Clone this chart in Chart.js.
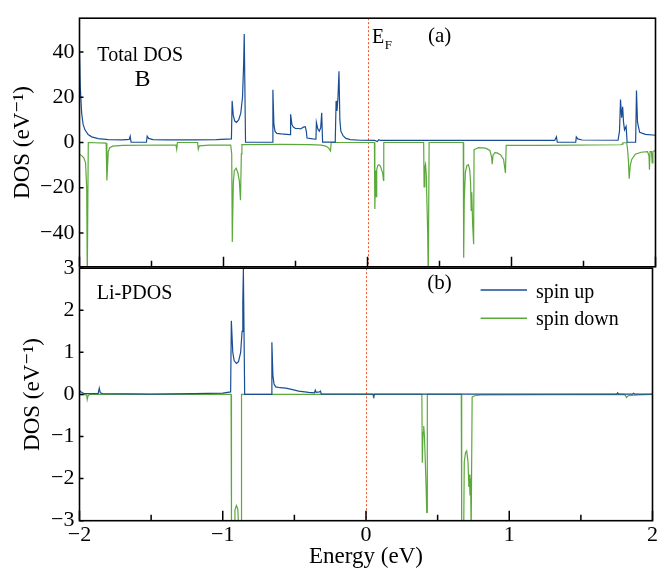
<!DOCTYPE html>
<html>
<head>
<meta charset="utf-8">
<script src="https://cdn.jsdelivr.net/npm/chart.js@4"></script>
<style>
html, body { margin: 0; padding: 0; background: #fff; }
#wrap { position: relative; width: 659px; height: 568px; overflow: hidden; }
canvas { position: absolute; left: 0; }
#topChart { top: 0; }
#botChart { top: 250px; }
</style>
</head>
<body>
<div id="wrap">
<canvas id="topChart" width="659" height="285"></canvas>
<canvas id="botChart" width="659" height="318"></canvas>
</div>
<script>
// (a) total DOS, spin up
const energyTotalUp = [-2.0,-1.995,-1.985,-1.975,-1.962,-1.94,-1.915,-1.87,-1.8,-1.7,-1.655,-1.648,-1.642,-1.535,-1.53,-1.52,-1.49,-1.4,-1.2,-1.05,
  -0.945,-0.94,-0.932,-0.922,-0.91,-0.895,-0.88,-0.868,-0.86,-0.856,-0.847,-0.66,-0.657,-0.65,-0.642,-0.63,-0.6,-0.56,-0.538,-0.534,
  -0.525,-0.515,-0.5,-0.48,-0.465,-0.445,-0.432,-0.425,-0.42,-0.38,-0.358,-0.355,-0.345,-0.335,-0.325,-0.318,-0.312,-0.224,-0.218,-0.212,
  -0.205,-0.198,-0.192,-0.185,-0.17,-0.15,-0.12,-0.05,0.05,0.068,0.078,0.09,0.5,1.0,1.3,1.312,1.318,1.446,1.45,1.46,
  1.49,1.74,1.75,1.757,1.765,1.772,1.778,1.785,1.796,1.803,1.862,1.868,1.875,1.89,1.93,2.0];
const dosTotalUp = [40,25,13,8,5.6,3.5,2.5,1.7,1.3,1.2,1.4,2.8,0.1,0.1,2.8,1.8,1.3,1.2,1.2,1.3,
  1.6,18.4,12,9.5,8.9,10,13,20,35,48,0.1,0.1,23.3,8,4.9,4,3.8,3.6,3.5,12.5,
  8,6.8,6.2,6.2,6,6.8,7,5,2,1.6,1.5,8.9,6,5,6.5,13.2,0.2,0.2,18.4,14,
  20,31.5,10,5,3,1.8,1.3,1.0,0.9,0.4,1.2,0.9,0.9,0.9,0.9,2.5,0.1,0.1,2.5,1.6,
  1.1,1.0,5,19,11,15.8,9,5.6,7.1,0.1,0.1,23,9,4.5,3.6,3.2];

// (a) total DOS, spin down
const energyTotalDown = [-2.0,-1.985,-1.97,-1.958,-1.95,-1.946,-1.941,-1.939,-1.815,-1.81,-1.8,-1.79,-1.77,-1.7,-1.4,-1.33,-1.325,-1.32,-1.18,-1.175,
  -1.168,-1.1,-0.95,-0.943,-0.939,-0.932,-0.925,-0.912,-0.9,-0.89,-0.882,-0.876,-0.872,-0.6,-0.4,-0.32,-0.29,-0.27,-0.257,-0.252,
  0.048,0.05,0.052,0.056,0.06,0.064,0.072,0.08,0.09,0.105,0.111,0.113,0.39,0.393,0.398,0.403,0.408,0.418,0.422,0.426,
  0.428,0.665,0.668,0.672,0.68,0.69,0.7,0.71,0.716,0.72,0.724,0.73,0.737,0.74,0.745,0.77,0.82,0.85,0.862,0.866,
  0.872,0.885,0.9,0.925,0.945,0.958,0.963,1.2,1.76,1.768,1.774,1.8,1.806,1.812,1.817,1.825,1.835,1.86,1.9,1.945,
  1.955,1.958,1.962,1.972,1.977,1.982,2.0];
const dosTotalDown = [-5.2,-5.8,-6.8,-9,-20,-60,-60,0,-0.3,-16.8,-4,-2.3,-1.6,-1.3,-1.1,-1.2,-3,0,0,-3,
  -1.5,-1.2,-1.2,-5,-44,-18,-12.5,-11.4,-13.5,-17,-25.5,-5,-0.9,-0.8,-0.9,-1.2,-1.6,-2.4,-3.7,0,
  0,-5,-29.4,-12.4,-24,-12,-10,-9.8,-10.5,-13.5,-16.8,0,0,-19.7,-11,-9.6,-14,-40,-60,-60,
  0,0,-51,-25,-13,-10.2,-9.8,-12,-18,-30,-22,-36,-45,-3.2,-3,-2.3,-2.5,-3.5,-6.5,-9.6,
  -5.5,-4.5,-4.6,-5.5,-7.5,-13.5,-1.3,-1.3,-1.0,-0.7,-0.1,-0.1,-3,-8,-16,-10,-7.5,-5.2,-4.3,-4.0,
  -6,-12,-4.0,-4.0,-9,-4.0,-3.4];

// (b) Li PDOS, spin up
const energyLiUp = [-2.0,-1.995,-1.985,-1.97,-1.87,-1.862,-1.855,-1.84,-1.5,-1.2,-1.0,-0.945,-0.94,-0.93,-0.92,-0.905,-0.89,-0.875,-0.865,-0.86,
  -0.856,-0.847,-0.66,-0.657,-0.65,-0.642,-0.63,-0.6,-0.56,-0.52,-0.47,-0.4,-0.36,-0.354,-0.348,-0.325,-0.318,-0.312,0.05,0.055,
  0.06,1.75,1.757,1.762,1.862,1.868,1.875,2.0];
const dosLiUp = [0.02,0.08,0.05,0.02,0.02,0.15,0.04,0.02,0.01,0.02,0.03,0.06,1.75,1.0,0.8,0.74,0.78,1.0,1.5,2.2,
  2.98,0,0,1.24,0.45,0.25,0.18,0.16,0.15,0.12,0.08,0.05,0.04,0.1,0.05,0.06,0.08,0.01,0.01,-0.03,
  0.01,0.01,0.04,0.01,0.01,0.03,0.01,0.01];

// (b) Li PDOS, spin down
const energyLiDown = [-2.0,-1.95,-1.946,-1.94,-1.93,-0.942,-0.939,-0.921,-0.915,-0.905,-0.895,-0.887,-0.871,-0.869,0.048,0.052,0.058,0.39,0.393,0.398,
  0.403,0.408,0.418,0.424,0.427,0.428,0.665,0.668,0.682,0.686,0.695,0.703,0.712,0.718,0.722,0.726,0.73,0.734,0.739,0.741,
  0.76,0.8,1.8,1.81,1.818,1.83,1.9,2.0];
const dosLiDown = [0,-0.01,-0.12,-0.03,0,0,-3.3,-3.3,-2.75,-2.64,-2.72,-3.3,-3.3,0,0,-0.06,0,0,-1.62,-0.9,
  -0.75,-1.0,-2.0,-2.8,-2.8,0,0,-3.3,-3.3,-1.6,-1.38,-1.34,-1.6,-2.2,-1.9,-2.4,-2.0,-3.3,-3.3,-0.06,
  -0.03,-0.01,0,-0.02,-0.07,-0.03,-0.01,0];

const seriesNames = ['spin up', 'spin down'];
const xTicks = [-2, -1, 0, 1, 2];
const xMinorTicks = [-1.5, -0.5, 0.5, 1.5];
const yTicksTotal = [-40, -20, 0, 20, 40];
const yTicksLi = [-3, -2, -1, 0, 1, 2, 3];

const serif = "'Liberation Serif', 'DejaVu Serif', serif";
const blue = '#1a4e94';
const green = '#5ba93a';

function pts(xs, ys) {
  return xs.map((x, i) => ({x: x, y: ys[i]}));
}
function minus(v) {
  return v < 0 ? '\u2212' + Math.abs(v) : '' + v;
}

function lineSet(label, xs, ys, color) {
  return {
    label: label,
    data: pts(xs, ys),
    borderColor: color,
    backgroundColor: color,
    borderWidth: 1.2,
    pointRadius: 0,
    tension: 0,
    fill: false
  };
}

// frame, inward ticks and Fermi level line
const framePlugin = {
  id: 'frame',
  beforeDatasetsDraw(chart) {
    const {ctx, chartArea: a, scales: {x}} = chart;
    const px = Math.round(x.getPixelForValue(0)) + 0.5;
    ctx.save();
    ctx.strokeStyle = '#f2542a';
    ctx.lineWidth = 1;
    ctx.setLineDash([2, 2]);
    ctx.beginPath();
    ctx.moveTo(px, a.top);
    ctx.lineTo(px, a.bottom);
    ctx.stroke();
    ctx.restore();
  },
  afterDatasetsDraw(chart) {
    const {ctx, chartArea: a, scales: {x, y}} = chart;
    ctx.save();
    ctx.strokeStyle = '#000';
    ctx.lineWidth = 1.5;
    ctx.beginPath();
    xTicks.forEach(v => {
      const px = x.getPixelForValue(v);
      ctx.moveTo(px, a.bottom);
      ctx.lineTo(px, a.bottom - 10);
    });
    xMinorTicks.forEach(v => {
      const px = x.getPixelForValue(v);
      ctx.moveTo(px, a.bottom);
      ctx.lineTo(px, a.bottom - 6);
    });
    y.ticks.forEach(t => {
      const py = y.getPixelForValue(t.value);
      ctx.moveTo(a.left, py);
      ctx.lineTo(a.left + 4, py);
    });
    ctx.stroke();
    ctx.lineWidth = 1.6;
    ctx.strokeRect(a.left, a.top, a.right - a.left, a.bottom - a.top);
    ctx.restore();
  }
};

function text(ctx, s, px, py, size, align) {
  ctx.font = size + 'px ' + serif;
  ctx.textAlign = align || 'left';
  ctx.textBaseline = 'alphabetic';
  ctx.fillText(s, px, py);
}

const labelsTop = {
  id: 'labelsTop',
  afterDraw(chart) {
    const {ctx, scales: {x, y}} = chart;
    ctx.save();
    ctx.fillStyle = '#000';
    text(ctx, 'Total DOS', x.getPixelForValue(-1.876), y.getPixelForValue(36.1), 20);
    text(ctx, 'B', x.getPixelForValue(-1.5625), y.getPixelForValue(24.8), 24, 'center');
    const ex = x.getPixelForValue(0.032);
    text(ctx, 'E', ex, y.getPixelForValue(44.1), 20);
    const w = ctx.measureText('E').width;
    text(ctx, 'F', ex + w + 0.5, y.getPixelForValue(41.5), 13);
    text(ctx, '(a)', x.getPixelForValue(0.42), y.getPixelForValue(44.3), 21);
    ctx.restore();
  }
};

const labelsBot = {
  id: 'labelsBot',
  afterDraw(chart) {
    const {ctx, scales: {x, y}} = chart;
    ctx.save();
    ctx.fillStyle = '#000';
    text(ctx, 'Li-PDOS', x.getPixelForValue(-1.88), y.getPixelForValue(2.28), 20);
    text(ctx, '(b)', x.getPixelForValue(0.427), y.getPixelForValue(2.5), 21);
    // legend
    const rows = [[2.48, 2.30], [1.81, 1.65]];
    chart.data.datasets.forEach((ds, i) => {
      const ly = y.getPixelForValue(rows[i][0]);
      ctx.strokeStyle = ds.borderColor;
      ctx.lineWidth = 1.5;
      ctx.beginPath();
      ctx.moveTo(x.getPixelForValue(0.80), ly);
      ctx.lineTo(x.getPixelForValue(1.124), ly);
      ctx.stroke();
      ctx.fillStyle = '#000';
      text(ctx, ds.label, x.getPixelForValue(1.186), y.getPixelForValue(rows[i][1]), 20);
    });
    ctx.restore();
  }
};

const tickFont = {family: serif, size: 22};

new Chart(document.getElementById('topChart'), {
  type: 'line',
  data: {
    datasets: [
      lineSet(seriesNames[0], energyTotalUp, dosTotalUp, blue),
      lineSet(seriesNames[1], energyTotalDown, dosTotalDown, green)
    ]
  },
  options: {
    responsive: false,
    animation: false,
    events: [],
    layout: {padding: {top: 13, right: 3.5, bottom: 18, left: 0}},
    plugins: {legend: {display: false}, tooltip: {enabled: false}},
    scales: {
      x: {type: 'linear', min: -2, max: 2, display: false},
      y: {
        type: 'linear', min: -55, max: 55,
        afterBuildTicks: s => { s.ticks = yTicksTotal.map(v => ({value: v})); },
        afterFit: s => { s.width = 79.5; },
        grid: {display: false, drawTicks: false},
        border: {display: false},
        ticks: {font: tickFont, color: '#000', padding: 5, callback: minus},
        title: {display: true, text: 'DOS (eV\u207B\u00B9)', color: '#000',
          font: {family: serif, size: 23}, padding: {top: 9, bottom: 0}}
      }
    }
  },
  plugins: [framePlugin, labelsTop]
});

new Chart(document.getElementById('botChart'), {
  type: 'line',
  data: {
    datasets: [
      lineSet(seriesNames[0], energyLiUp, dosLiUp, blue),
      lineSet(seriesNames[1], energyLiDown, dosLiDown, green)
    ]
  },
  options: {
    responsive: false,
    animation: false,
    events: [],
    layout: {padding: {top: 17, right: 3.5, bottom: 0, left: 0}},
    plugins: {legend: {display: false}, tooltip: {enabled: false}},
    scales: {
      x: {
        type: 'linear', min: -2, max: 2,
        afterBuildTicks: s => { s.ticks = xTicks.map(v => ({value: v})); },
        afterFit: s => { s.height = 47.3; },
        grid: {display: false, drawTicks: false},
        border: {display: false},
        ticks: {font: tickFont, color: '#000', padding: 1, maxRotation: 0, callback: minus},
        title: {display: true, text: 'Energy (eV)', color: '#000',
          font: {family: serif, size: 23, lineHeight: 1}, padding: {top: 0, bottom: 0}}
      },
      y: {
        type: 'linear', min: -3, max: 3,
        afterBuildTicks: s => { s.ticks = yTicksLi.map(v => ({value: v})); },
        afterFit: s => { s.width = 79.5; },
        grid: {display: false, drawTicks: false},
        border: {display: false},
        ticks: {font: tickFont, color: '#000', padding: 5, callback: minus},
        title: {display: true, text: 'DOS (eV\u207B\u00B9)', color: '#000',
          font: {family: serif, size: 23}, padding: {top: 19, bottom: 0}}
      }
    }
  },
  plugins: [framePlugin, labelsBot]
});
</script>
</body>
</html>
